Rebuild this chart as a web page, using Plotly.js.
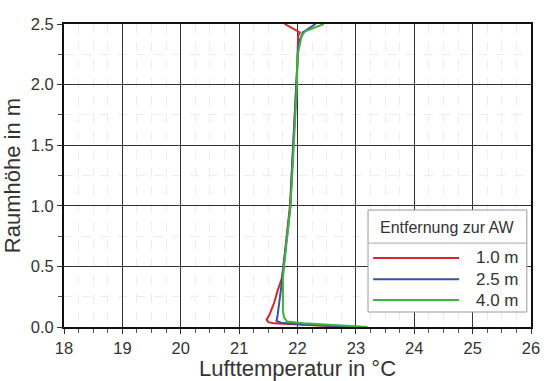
<!DOCTYPE html>
<html>
<head>
<meta charset="utf-8">
<script src="https://cdn.plot.ly/plotly-3.0.1.min.js"></script>
<style>html,body{margin:0;padding:0;background:#fff;}#chart{width:544px;height:381px;}</style>
</head>
<body>
<div id="chart"></div>
<script>
// Series: air temperature profiles (°C) vs room height (m)
const seriesNames = ["1.0 m", "2.5 m", "4.0 m"];
const seriesColors = ["#d62728", "#3a4fa8", "#3cb43c"];
const legendTitle = "Entfernung zur AW";

const height_1 = [0.0, 0.01, 0.02, 0.03, 0.04, 0.06, 0.1, 0.2, 0.3, 0.4, 0.5, 0.75, 1.0, 1.25, 1.5, 1.75, 2.0, 2.2, 2.35, 2.4, 2.43, 2.5];
const temp_1   = [22.9, 22.45, 22.0, 21.6, 21.5, 21.47, 21.52, 21.6, 21.66, 21.73, 21.76, 21.82, 21.87, 21.9, 21.93, 21.96, 21.98, 22.0, 22.0, 22.01, 22.04, 21.78];

const height_2 = [0.0, 0.01, 0.02, 0.035, 0.05, 0.1, 0.2, 0.3, 0.4, 0.5, 0.75, 1.0, 1.25, 1.5, 1.75, 2.0, 2.2, 2.3, 2.37, 2.43, 2.5];
const temp_2   = [23.1, 22.6, 22.1, 21.72, 21.64, 21.66, 21.69, 21.71, 21.74, 21.76, 21.82, 21.88, 21.9, 21.93, 21.96, 21.98, 22.0, 22.01, 22.04, 22.09, 22.31];

const height_3 = [0.0, 0.01, 0.02, 0.03, 0.045, 0.08, 0.13, 0.2, 0.3, 0.4, 0.5, 0.75, 1.0, 1.25, 1.5, 1.75, 2.0, 2.24, 2.4, 2.44, 2.5];
const temp_3   = [23.2, 22.8, 22.4, 22.1, 21.82, 21.77, 21.75, 21.75, 21.75, 21.75, 21.77, 21.83, 21.88, 21.91, 21.94, 21.97, 21.99, 22.0, 22.07, 22.13, 22.45];

const xRange = [18, 26];
const yRange = [0, 2.5];
const xTitle = "Lufttemperatur in °C";
const yTitle = "Raumhöhe in m";

const heights = [height_1, height_2, height_3];
const temps = [temp_1, temp_2, temp_3];

const traces = seriesNames.map((n, i) => ({
  x: temps[i], y: heights[i], name: n, type: "scatter", mode: "lines",
  line: {color: seriesColors[i], width: 2}, showlegend: false, cliponaxis: true
}));

// custom legend box (paper coords)
const lx0 = 0.651, lx1 = 0.991, ly0 = 0.0495, ly1 = 0.386, lsep = 0.277;
const rowY = [0.228, 0.158, 0.089];
const shapes = [
  {type: "rect", xref: "paper", yref: "paper", x0: lx0, x1: lx1, y0: ly0, y1: ly1,
   fillcolor: "#fff", line: {color: "#999", width: 1}, layer: "above"},
  {type: "line", xref: "paper", yref: "paper", x0: lx0, x1: lx1, y0: lsep, y1: lsep,
   line: {color: "#aaa", width: 1}, layer: "above"}
];
const annotations = [
  {xref: "paper", yref: "paper", x: 0.672, y: 0.327, text: legendTitle, showarrow: false,
   xanchor: "left", yanchor: "middle", font: {size: 16, color: "#333"}}
];
seriesNames.forEach((n, i) => {
  shapes.push({type: "line", xref: "paper", yref: "paper", x0: 0.662, x1: 0.846, y0: rowY[i], y1: rowY[i],
    line: {color: seriesColors[i], width: 2}, layer: "above"});
  annotations.push({xref: "paper", yref: "paper", x: 0.978, y: rowY[i], text: n, showarrow: false,
    xanchor: "right", yanchor: "middle", font: {size: 17, color: "#333"}});
});

const axisCommon = {
  showline: true, linecolor: "#111", linewidth: 2, mirror: true,
  showgrid: true, gridcolor: "#333", gridwidth: 1,
  ticks: "outside", ticklen: 5, tickwidth: 1, tickcolor: "#333",
  zeroline: false, tickfont: {size: 16.5, color: "#333"}
};

const layout = {
  width: 544, height: 381,
  margin: {l: 64, r: 13, t: 24, b: 54},
  paper_bgcolor: "#fff", plot_bgcolor: "#fff",
  font: {family: "Liberation Sans, Arial, sans-serif", color: "#333"},
  xaxis: Object.assign({}, axisCommon, {
    range: xRange, dtick: 1, tick0: 18,
    title: {text: xTitle, font: {size: 22, color: "#333"}, standoff: 0},
    minor: {dtick: 0.25, showgrid: true, gridcolor: "#ededed", griddash: "dash", gridwidth: 1,
            ticks: "outside", ticklen: 4, tickcolor: "#555"}
  }),
  yaxis: Object.assign({}, axisCommon, {
    range: yRange, dtick: 0.5, tick0: 0, tickformat: ".1f",
    title: {text: yTitle, font: {size: 22, color: "#333"}, standoff: 4},
    minor: {dtick: 0.25, showgrid: true, gridcolor: "#ededed", griddash: "dash", gridwidth: 1,
            ticks: "outside", ticklen: 4, tickcolor: "#555"}
  }),
  shapes: shapes,
  annotations: annotations
};

Plotly.newPlot("chart", traces, layout, {displayModeBar: false, staticPlot: true});
</script>
</body>
</html>
